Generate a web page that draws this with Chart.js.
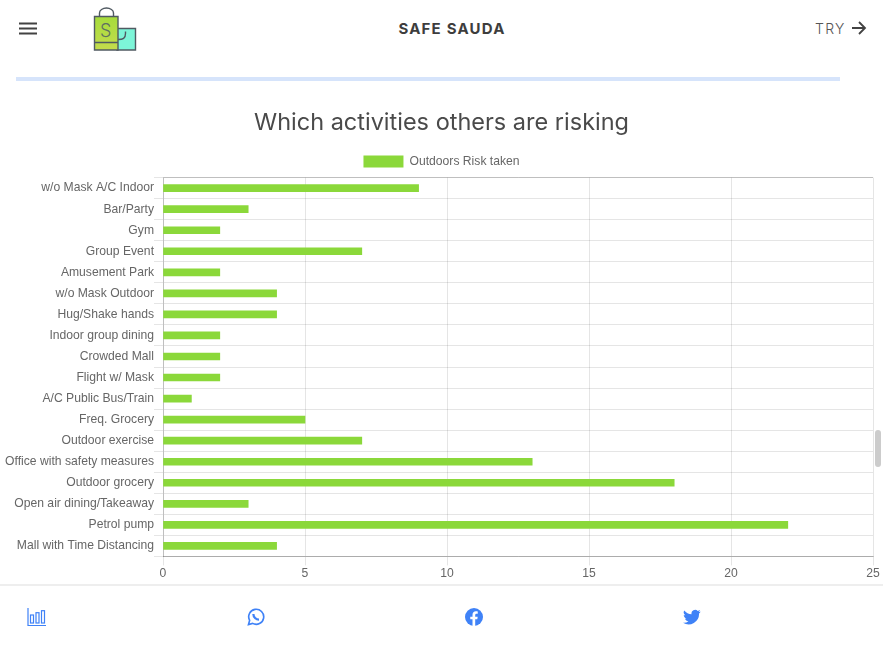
<!DOCTYPE html>
<html>
<head>
<meta charset="utf-8">
<title>Safe Sauda</title>
<script src="https://cdn.jsdelivr.net/npm/chart.js@4"></script>
<style>
    html, body { margin: 0; padding: 0; background: #fff; overflow: hidden; }
    body { width: 883px; height: 649px; position: relative; font-family: Inter, sans-serif; }
    .abs { position: absolute; }
    #brand { left: 0; width: 904px; top: 19px; text-align: center; font-size: 15px; font-weight: 700; letter-spacing: 1.2px; color: #3d3d3d; }
    #try { left: 815px; top: 20px; font-size: 14px; font-weight: 300; letter-spacing: 1.3px; color: #555; }
    #rule { left: 16px; top: 77px; width: 824px; height: 4px; background: #d6e4fb; }
    #chart { left: 0; top: 96px; }
    #scroll { left: 875px; top: 430px; width: 6px; height: 37px; border-radius: 3px; background: #ccc; }
    #footer { left: 0; top: 584px; width: 883px; height: 2px; background: #eee; }
</style>
</head>
<body>
    <!-- top bar -->
    <svg class="abs" style="left:19px;top:22px" width="18" height="13"><path d="M0 1.5h18M0 6.5h18M0 11.5h18" stroke="#424242" stroke-width="2"/></svg>
    <svg class="abs" style="left:90px;top:5px" width="50" height="48" fill="none" stroke="#505a62" stroke-width="1.4">
        <defs><linearGradient id="bag" x1="0" y1="0" x2="0" y2="1"><stop offset="0" stop-color="#a6dc3c"/><stop offset="1" stop-color="#c4dc4c"/></linearGradient></defs>
        <path d="M27 23.500h18.500v21.500H27z" fill="#7df5d8"/>
        <path d="M4.500 11.500h23.500v33.500H4.500z" fill="url(#bag)"/>
        <path d="M4.500 37.500h23.500M9.500 11.500V8a7 5 0 0 1 14 0v3.500M28 34.500c5 0 7.500-1 7.500-6v-2"/>
        <text x="10" y="32" font-family="Inter" font-size="18" font-weight="300" fill="#5f7060" stroke="none">S</text>
    </svg>
    <div id="brand" class="abs">SAFE SAUDA</div>
    <div id="try" class="abs">TRY</div>
    <svg class="abs" style="left:851px;top:21px" width="16" height="14" fill="none" stroke="#424242" stroke-width="1.800"><path d="M1 7h13M8 1l6 6-6 6"/></svg>
    <div id="rule" class="abs"></div>

    <canvas id="chart" class="abs" width="883" height="492"></canvas>
    <div id="scroll" class="abs"></div>
    <div id="footer" class="abs"></div>

    <!-- bottom nav -->
    <svg class="abs" style="left:27px;top:607px" width="20" height="20" fill="none" stroke="#3f82f7" stroke-width="1.200"><path d="M1 1v17.500h18"/><rect x="3.500" y="8" width="3" height="8"/><rect x="9" y="5.700" width="3" height="10.300"/><rect x="14.500" y="3.700" width="3" height="12.300"/></svg>
    <svg class="abs" style="left:247px;top:608px" width="18" height="18" viewBox="0 0 24 24" fill="none" stroke="#3f82f7" stroke-width="2.200"><path d="M2 22l1.500-5.500A10 10 0 1 1 7.500 20.500z"/><path d="M8.500 8c0 4 3.500 7.500 7.500 7.500" stroke-width="3"/></svg>
    <svg class="abs" style="left:465px;top:608px" width="18" height="18" viewBox="0 0 24 24"><circle cx="12" cy="12" r="12" fill="#3f82f7"/><path d="M10 24v-9H7v-3.500h3V9c0-3 1.800-4.600 4.500-4.600 1.300 0 2.500.2 2.500.2v3h-1.500c-1.400 0-1.900.9-1.900 1.800v2.100h3.300l-.5 3.500h-2.800v9z" fill="#fff"/></svg>
    <svg class="abs" style="left:683px;top:608px" width="18" height="18" viewBox="0 0 24 24"><path d="M23.500 4.600c-.9.400-1.800.7-2.800.8 1-.6 1.800-1.500 2.100-2.700-.9.600-2 1-3.100 1.200A4.900 4.900 0 0 0 11.400 8.400 13.900 13.900 0 0 1 1.700 3.300a4.900 4.900 0 0 0 1.500 6.500c-.8 0-1.500-.2-2.200-.6 0 2.400 1.700 4.400 3.900 4.900-.7.200-1.500.2-2.200.1.600 2 2.400 3.400 4.600 3.400A9.800 9.800 0 0 1 0 19.600 13.900 13.900 0 0 0 21.400 7.300c1-.7 1.800-1.600 2.100-2.700z" fill="#3f82f7"/></svg>

<script>
    const categories = [
        'w/o Mask A/C Indoor', 'Bar/Party', 'Gym', 'Group Event', 'Amusement Park',
        'w/o Mask Outdoor', 'Hug/Shake hands', 'Indoor group dining', 'Crowded Mall',
        'Flight w/ Mask', 'A/C Public Bus/Train', 'Freq. Grocery', 'Outdoor exercise',
        'Office with safety measures', 'Outdoor grocery', 'Open air dining/Takeaway',
        'Petrol pump', 'Mall with Time Distancing'
    ];
    const riskValues = [9, 3, 2, 7, 2, 4, 4, 2, 2, 2, 1, 5, 7, 13, 18, 3, 22, 4];
    const seriesLabel = 'Outdoors Risk taken';
    const chartTitle = 'Which activities others are risking';

    const gridColor = 'rgba(0,0,0,0.1)';
    const axisColor = 'rgba(0,0,0,0.25)';
    const tickFont = { family: '"Liberation Sans", Arial, sans-serif', size: 12.15 };

    new Chart(document.getElementById('chart'), {
        type: 'bar',
        data: {
            labels: categories,
            datasets: [{
                label: seriesLabel,
                data: riskValues,
                backgroundColor: '#8bd83a',
                borderWidth: 0,
                barThickness: 7
            }]
        },
        options: {
            indexAxis: 'y',
            responsive: false,
            animation: false,
            devicePixelRatio: 1,
            layout: { padding: { left: 0, right: 0, top: 0, bottom: 6 } },
            plugins: {
                title: {
                    display: true,
                    text: chartTitle,
                    color: '#4a4a4a',
                    font: { family: 'Inter, sans-serif', size: 23.5, weight: 'normal' },
                    padding: { top: 13, bottom: 6.5 }
                },
                legend: {
                    labels: { color: '#666', font: tickFont, boxWidth: 40, boxHeight: 12, padding: 11.75 }
                },
                tooltip: { enabled: false }
            },
            scales: {
                x: {
                    min: 0,
                    max: 25,
                    // room on the right of the plot only, title and legend stay centred
                    afterFit: function(scale) { scale.paddingRight = 10; },
                    ticks: { stepSize: 5, color: '#666', font: tickFont, padding: 1 },
                    grid: {
                        // the y axis border already draws the line at zero
                        color: function(ctx) { return ctx.index === 0 ? 'transparent' : gridColor; },
                        tickColor: gridColor,
                        tickLength: 9
                    },
                    border: { color: axisColor }
                },
                y: {
                    afterFit: function(scale) { scale.width = 163; },
                    ticks: { color: '#666', font: tickFont, padding: 0, autoSkip: false },
                    grid: {
                        color: function(ctx) {
                            if (ctx.index === 0) return axisColor;
                            return ctx.index === categories.length ? 'transparent' : gridColor;
                        },
                        tickColor: gridColor,
                        tickLength: 9
                    },
                    border: { color: axisColor }
                }
            }
        }
    });
</script>
</body>
</html>
